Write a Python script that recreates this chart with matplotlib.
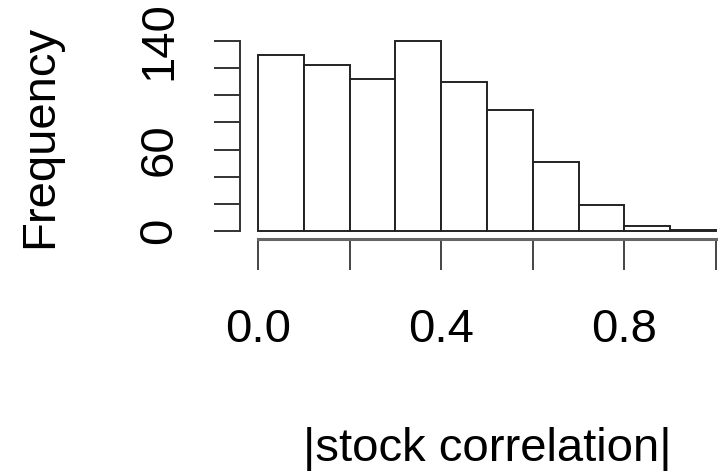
import matplotlib
matplotlib.use('Agg')
import matplotlib.pyplot as plt
import numpy as np

# histogram of |stock correlation|, bins of width 0.1
bin_edges = [0.0, 0.1, 0.2, 0.3, 0.4, 0.5, 0.6, 0.7, 0.8, 0.9, 1.0]
counts = [130, 122, 112, 140, 110, 89, 51, 19, 4, 1]
y_ticks = [0, 20, 40, 60, 80, 100, 120, 140]
y_ticklabels = ['0', '', '', '60', '', '', '', '140']
x_ticks = [0.0, 0.2, 0.4, 0.6, 0.8, 1.0]
x_ticklabels = ['0.0', '', '0.4', '', '0.8', '']

plt.rcParams['font.family'] = ['Liberation Sans', 'DejaVu Sans']

fig = plt.figure(figsize=(7.18, 4.74), dpi=100)
fig.patch.set_facecolor('white')

# R style plot region: data range extended by 4%
ax = fig.add_axes([0.3338, 0.4966, 0.6889, 0.4329])
lefts = bin_edges[:-1]
widths = np.diff(bin_edges)
ax.bar(lefts, counts, width=widths, align='edge', color='white',
       edgecolor='#222222', linewidth=1.4)

ax.set_xlim(-0.04, 1.04)
ax.set_ylim(-5.6, 145.6)

for s in ['top', 'right']:
    ax.spines[s].set_visible(False)
ax.spines['left'].set_bounds(0, 140)
ax.spines['bottom'].set_bounds(0, 1)
ax.spines['left'].set_color('#333333')
ax.spines['bottom'].set_color('#666666')
ax.spines['left'].set_linewidth(1.4)
ax.spines['bottom'].set_linewidth(2.2)

ax.set_yticks(y_ticks)
ax.set_yticklabels(y_ticklabels, rotation=90, va='center')
ax.set_xticks(x_ticks)
ax.set_xticklabels(x_ticklabels)

ax.tick_params(axis='x', direction='out', length=22, width=1.4,
               color='#444444', labelsize=34, pad=28)
ax.tick_params(axis='y', direction='out', length=19, width=1.4,
               color='#333333', labelsize=34, pad=23)

ax.set_xlabel('|stock correlation|', fontsize=34, labelpad=54)
ax.set_ylabel('Frequency', fontsize=34, labelpad=54)

plt.savefig('out.png', dpi=100, facecolor='white')
plt.close(fig)
